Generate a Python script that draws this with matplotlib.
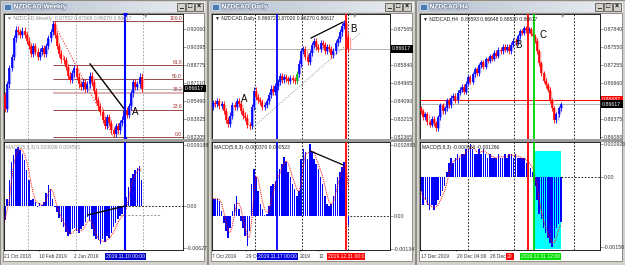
import numpy as np
import pandas as pd
import matplotlib.pyplot as plt
from matplotlib.patches import Rectangle
from matplotlib.colors import LinearSegmentedColormap
from matplotlib.transforms import blended_transform_factory as blend
import matplotlib.patheffects as pe

plt.rcParams['font.family'] = ['Liberation Sans', 'DejaVu Sans']

# ---------------- NZDCAD,Weekly ----------------
wk_close = [0.848, 0.870, 0.885, 0.895, 0.912, 0.920, 0.918, 0.915,
            0.919, 0.915, 0.910, 0.905, 0.898, 0.905, 0.900, 0.895,
            0.900, 0.903, 0.898, 0.905, 0.912, 0.918, 0.925, 0.915,
            0.905, 0.898, 0.893, 0.892, 0.886, 0.878, 0.874, 0.880,
            0.885, 0.877, 0.870, 0.868, 0.872, 0.866, 0.870, 0.878,
            0.872, 0.864, 0.856, 0.850, 0.845, 0.838, 0.832, 0.840,
            0.835, 0.828, 0.825, 0.832, 0.828, 0.835, 0.838, 0.846,
            0.842, 0.850, 0.862, 0.872, 0.868, 0.870, 0.877, 0.86617]
wk_open0 = 0.860
wk_macd = [-0.0021, 0.0010, 0.0040, 0.0066, 0.0077, 0.0086, 0.0089, 0.0085,
           0.0078, 0.0070, 0.0054, 0.0040, 0.0009, 0.0010, 0.0006, -0.0002,
           0.0005, 0.0002, 0.0006, 0.0020, 0.0032, 0.0025, 0.0010, -0.0002,
           -0.0009, -0.0018, -0.0024, -0.0031, -0.0039, -0.0046, -0.0042, -0.0035,
           -0.0033, -0.0038, -0.0040, -0.0035, -0.0030, -0.0024, -0.0016, -0.0022,
           -0.0035, -0.0045, -0.0050, -0.0052, -0.0057, -0.0050, -0.0055, -0.0046,
           -0.0048, -0.0040, -0.0032, -0.0025, -0.0020, -0.0015, -0.0012, -0.0010,
           0.0014, 0.0029, 0.0042, 0.0048, 0.0054, 0.0057, 0.0060, 0.0039]
wk_pticks = [0.92060, 0.90395, 0.88775, 0.87110, 0.85490, 0.83825, 0.82205]
wk_mticks = [0.009198, 0.0, -0.00627]
wk_mlabels = ['0.009198', '0.00', '-0.00627']
wk_fib_lo, wk_fib_hi = 0.8221, 0.9279
wk_fib_levels = [0.0, 23.6, 38.2, 50.0, 61.8, 100.0]
wk_times = ['21 Oct 2018', '10 Feb 2019', '2 Jun 2019']
wk_time_idx = [-0.3, 15.8, 32]

# ---------------- NZDCAD,Daily ----------------
dl_close = [0.8400, 0.8395, 0.8410, 0.8385, 0.8395, 0.8360, 0.8320, 0.8300,
            0.8340, 0.8390, 0.8380, 0.8410, 0.8395, 0.8360, 0.8340, 0.8330,
            0.8295, 0.8290, 0.8380, 0.8460, 0.8430, 0.8415, 0.8405, 0.8380,
            0.8390, 0.8410, 0.8440, 0.8470, 0.8455, 0.8480, 0.8500, 0.8530,
            0.8510, 0.8525, 0.8515, 0.8505, 0.8520, 0.8510, 0.8505, 0.8540,
            0.8590, 0.8650, 0.8660, 0.8620, 0.8600, 0.8640, 0.8680, 0.8700,
            0.8670, 0.8660, 0.8690, 0.8680, 0.8650, 0.8670, 0.8660, 0.8630,
            0.8650, 0.8690, 0.8710, 0.8740, 0.8770, 0.8785, 0.8720, 0.86617]
dl_open0 = 0.8380
dl_macd = [0.0007, 0.0007, 0.0007, 0.0006, 0.0002, -0.0003, -0.0006, -0.0009,
           -0.0005, 0.0002, 0.0005, 0.0008, 0.0003, -0.0002, -0.0005, -0.0008,
           -0.0012, -0.0006, 0.0013, 0.0019, 0.0016, 0.0010, 0.0005, 0.0003,
           0.00005, 0.0001, 0.0004, 0.0012, 0.0013, 0.0014, 0.0018, 0.0019,
           0.0021, 0.0024, 0.0022, 0.0018, 0.0016, 0.0013, 0.0011, 0.0008,
           0.0010, 0.0023, 0.0027, 0.0026, 0.0023, 0.0029, 0.0026, 0.0023,
           0.0021, 0.0019, 0.0016, 0.0013, 0.0008, 0.0005, 0.0004, 0.0005,
           0.0008, 0.0013, 0.0016, 0.0018, 0.0020, 0.0022, 0.0016, -0.00037]
dl_pticks = [0.87565, 0.85840, 0.84965, 0.84090, 0.83215, 0.82365]
dl_mticks = [0.002885, 0.0, -0.00134]
dl_mlabels = ['0.002885', '0.00', '-0.00134']
dl_green_bar = 39
# only the parts of the time scale that the marker boxes leave visible
dl_times = ['7 Oct 2019', '29 O', '2019', '12']
dl_time_idx = [-0.3, 15.5, 40.6, 49.2]

# ---------------- NZDCAD,H4 ----------------
h4_close = [0.8650, 0.8640, 0.8645, 0.8632, 0.8628, 0.8638, 0.8630, 0.8622,
            0.8640, 0.8660, 0.8650, 0.8655, 0.8668, 0.8660, 0.8672, 0.8675,
            0.8668, 0.8680, 0.8685, 0.8690, 0.8682, 0.8695, 0.8705, 0.8698,
            0.8710, 0.8718, 0.8712, 0.8725, 0.8730, 0.8722, 0.8735, 0.8732,
            0.8740, 0.8735, 0.8745, 0.8740, 0.8750, 0.8748, 0.8755, 0.8750,
            0.8755, 0.8748, 0.8758, 0.8765, 0.8762, 0.8772, 0.8780, 0.8778,
            0.8785, 0.8782, 0.8784, 0.8776, 0.8772, 0.8765, 0.8748, 0.8728,
            0.8712, 0.8700, 0.8692, 0.8685, 0.8668, 0.8655, 0.8635, 0.8645,
            0.8655, 0.86617]
h4_open0 = 0.8655
h4_macd = [-0.0003, -0.0006, -0.0005, -0.0006, -0.0007, -0.0006, -0.0007, -0.0006,
           -0.0005, -0.0004, -0.0003, -0.0002, 0.0001, 0.0003, 0.0004, 0.0003,
           0.0004, 0.0005, 0.0004, 0.0005, 0.0005, 0.0006, 0.0006, 0.0007,
           0.0006, 0.0005, 0.0005, 0.0006, 0.0005, 0.0006, 0.0005, 0.0004,
           0.0005, 0.0004, 0.0004, 0.0004, 0.0005, 0.0004, 0.0004, 0.0005,
           0.0004, 0.0005, 0.0005, 0.0004, 0.0005, 0.0004, 0.0004, 0.0004,
           0.0004, 0.0003, 0.0003, 0.0002, 0.0001, -0.0002, -0.0005, -0.0008,
           -0.0009, -0.0011, -0.0012, -0.0013, -0.0014, -0.0015, -0.0013, -0.0011,
           -0.0010, -0.00097]
h4_pticks = [0.87840, 0.87550, 0.87255, 0.86960, 0.86375, 0.86080]
h4_mticks = [0.00071, 0.0, -0.00150]
h4_mlabels = ['0.000920', '0.00', '-0.00150']
h4_times = ['17 Dec 2019', '20 Dec 04:00', '28 Dec']
h4_time_idx = [0.2, 16.7, 32.2]

W, H = 625, 265
fig = plt.figure(figsize=(6.25, 2.65), dpi=100)
fig.patch.set_facecolor('#d4d0c8')


def frac(x0, y0, x1, y1):
    return [x0 / W, 1 - y1 / H, (x1 - x0) / W, (y1 - y0) / H]


def frect(x0, y0, x1, y1, **kw):
    fig.add_artist(Rectangle((x0 / W, 1 - y1 / H), (x1 - x0) / W, (y1 - y0) / H,
                             transform=fig.transFigure, **kw))


def ftext(x, y, s, **kw):
    fig.text(x / W, 1 - y / H, s, **kw)


title_cmap = LinearSegmentedColormap.from_list('tb', ['#b4c0d0', '#eceff3'])


def window(x0, x1, title):
    frect(x0, 0, x1, H, fc='#d4d0c8', ec='#808080', lw=0.6, zorder=-10)
    tb = fig.add_axes(frac(x0 + 2, 1.5, x1 - 2, 12))
    tb.imshow(np.linspace(0, 1, 64)[None, :], aspect='auto', cmap=title_cmap)
    tb.axis('off')
    frect(x0 + 4, 3.5, x0 + 11, 10, fc='#4a7ab5', ec='white', lw=0.4)
    ftext(x0 + 13.5, 7, title, fontsize=4.8, color='white', va='center', fontweight='bold',
          path_effects=[pe.withStroke(linewidth=1.1, foreground='#7d8ea3')])
    for k, g in enumerate(['_', '□', '×']):
        bx = x1 - 30 + 9 * k
        frect(bx, 3, bx + 8, 10.5, fc='#d4d0c8', ec='#404040', lw=0.5)
        ftext(bx + 4, 6.6, g, fontsize=5, ha='center', va='center', fontweight='bold')
    frect(x0 + 3, 13, x1 - 3, 261, fc='white', ec='#808080', lw=0.6, zorder=-5)
    frect(x0 + 3, 139.2, x1 - 3, 142, fc='#9c9c9c', ec='none', zorder=2)


def style(ax, xl, yl, ticks, labels):
    ax.set_xlim(*xl)
    ax.set_ylim(*yl)
    ax.set_xticks([])
    ax.yaxis.tick_right()
    ax.set_yticks(ticks, labels)
    ax.tick_params(axis='y', length=2, width=0.4, labelsize=3.8, pad=1,
                   color='#555555', labelcolor='#333333')
    for sp in ax.spines.values():
        sp.set_linewidth(0.6)


def chart(L, R, p0, s, close, open0, wick, macd, pyl, pticks, myl, mticks, mlabels,
          green=None):
    xl = ((L - p0) / s, (R - p0) / s)
    axp = fig.add_axes(frac(L, 14, R, 139))
    axm = fig.add_axes(frac(L, 142, R, 250))
    style(axp, xl, pyl, pticks, [f'{t:.5f}' for t in pticks])
    style(axm, xl, myl, mticks, mlabels)

    c = np.asarray(close)
    o = np.r_[open0, c[:-1]]
    x = np.arange(len(c))
    up = c >= o
    lo, hi = np.minimum(o, c), np.maximum(o, c)
    col = np.where(up, '#0000ff', '#ff0000').astype(object)
    pale = np.where(up, '#a0a0ff', '#ffa0a0')
    if green is not None:
        col[green] = '#00c000'
    axp.vlines(x + 0.5, lo, hi, colors=pale, lw=1.0, zorder=3)
    axp.vlines(x, lo - wick, hi + wick, colors=col, lw=0.6, zorder=4)
    axp.vlines(x, lo, hi, colors=col, lw=1.25, zorder=4)

    m = np.asarray(macd)
    sig = pd.Series(m).rolling(3, min_periods=1).mean().to_numpy()
    axm.bar(np.arange(len(m)), m, width=0.7, color='#0000ff', lw=0, zorder=2)
    axm.plot(np.arange(len(m)), sig, color='#ff0000', ls=(0, (1, 1)), lw=0.7, zorder=3)
    return axp, axm


def vline(axes, x, **kw):
    for a in axes:
        a.axvline(x, **kw)


def price_box(ax, y, s, fc):
    ax.text(1.012, y, s, transform=blend(ax.transAxes, ax.transData), fontsize=3.8,
            color='white', va='center', ha='left',
            bbox=dict(boxstyle='square,pad=0.25', fc=fc, ec='none'), zorder=6)


def time_labels(ax, idx, labels):
    tr = blend(ax.transData, ax.transAxes)
    for i, t in zip(idx, labels):
        ax.text(i, -0.056, t, transform=tr, fontsize=3.5, color='#333333',
                ha='left', va='center', zorder=5)
        ax.plot([i - 0.3, i - 0.3], [-0.01, 0.0], transform=tr, color='#555555',
                lw=0.4, clip_on=False)


def time_box(ax, i, s, fc):
    ax.text(i, -0.056, s, transform=blend(ax.transData, ax.transAxes), fontsize=3.6,
            color='white', ha='center', va='center', zorder=7,
            bbox=dict(boxstyle='square,pad=0.2', fc=fc, ec='none'))


dots = (0, (2, 2))

# ----- window 1: weekly -----
window(0, 207, 'NZDCAD,Weekly')
ap, am = chart(4, 183, 5, 2.17, wk_close, wk_open0, 0.003, wk_macd,
               (0.82023, 0.93429), wk_pticks, (-0.00664, 0.00966), wk_mticks, wk_mlabels)
xr = ap.get_xlim()[1]
for xv in [10.6, 32.7, 63.6]:
    vline([ap, am], xv, color='#9a9a9a', ls=dots, lw=0.6, zorder=1)
ap.axhline(0.86617, color='#a8a8a8', lw=0.6, zorder=2)
for lv in wk_fib_levels:
    p = wk_fib_lo + (wk_fib_hi - wk_fib_lo) * lv / 100
    ap.hlines(p, 22, xr, colors='#d8a8a8' if lv == 38.2 else '#a04848',
              lw=1.2 if lv == 38.2 else 0.7, zorder=2)
    ap.text(xr - 0.4, p + 0.0004, f'{lv:.1f}', fontsize=3.6, color='#a03030',
            ha='right', va='bottom', zorder=5)
ap.plot([22, 50], [wk_fib_hi, wk_fib_lo], color='#ff3030', ls=(0, (1, 1.5)), lw=0.8, zorder=2)
ap.plot([39.2, 55.3], [0.8887, 0.8467], color='black', lw=1.0, zorder=5)
vline([ap, am], 55.3, color='#0000ff', lw=1.5, zorder=5)
ap.plot([55.3], [0.9330], marker='v', ms=2.5, color='#0000ff', zorder=6, clip_on=False)
ap.plot([55.3], [0.8212], marker='^', ms=2.5, color='#0000ff', zorder=6, clip_on=False)
ap.text(60.2, 0.8448, 'A', fontsize=7, ha='center', va='center', zorder=6)
price_box(ap, 0.86617, '0.86617', 'black')
ap.text(0.015, 0.985, '▼ NZDCAD,Weekly  0.87552 0.87969 0.86270 0.86617', transform=ap.transAxes,
        fontsize=3.6, color='#909090', va='top', zorder=6)
am.text(0.012, 0.975, 'MACD(5,8,3) 0.003939 0.004591', transform=am.transAxes,
        fontsize=3.6, color='#909090', va='top', zorder=6)
am.plot([38.2, 55.3], [-0.00136, 0.0], color='black', lw=1.0, zorder=5)
am.hlines(0, 55.3, xr, colors='black', linestyles=dots, lw=0.6, zorder=4)
am.hlines(-0.00136, 53, 71.4, colors='#8a8a8a', linestyles=(0, (2.5, 2)), lw=0.6, zorder=4)
time_labels(am, wk_time_idx, wk_times)
time_box(am, 55.3, '2019.11.10 00:00', '#0000c8')
ftext(146, 16, '▼', fontsize=4, color='#909090', ha='center', va='center')

# ----- window 2: daily -----
window(208, 415, 'NZDCAD,Daily')
ap, am = chart(212, 390, 213, 2.15, dl_close, dl_open0, 0.0015, dl_macd,
               (0.82269, 0.88287), dl_pticks, (-0.00138, 0.0030), dl_mticks, dl_mlabels,
               green=dl_green_bar)
xr = ap.get_xlim()[1]
for xv in [19.5, 41.4, 62.8]:
    vline([ap, am], xv, color='black', ls=dots, lw=0.6, zorder=1)
ap.axhline(0.86617, color='#a8a8a8', lw=0.6, zorder=2)
ap.plot([17.2, 68.4], [0.8270, 0.8737], color='#909090', ls=(0, (1, 1.5)), lw=0.7, zorder=2)
ap.plot([45.6, 60.5], [0.8713, 0.8790], color='black', lw=0.9, zorder=5)
vline([ap, am], 29.8, color='#0000ff', lw=1.3, zorder=5)
vline([ap, am], 61.9, color='#ff0000', lw=1.3, zorder=5)
ap.text(14.4, 0.8420, 'A', fontsize=7, ha='center', va='center', zorder=6)
ap.text(65.2, 0.8757, 'B', fontsize=7, ha='center', va='center', zorder=6)
price_box(ap, 0.86617, '0.86617', 'black')
ap.text(0.015, 0.985, '▼ NZDCAD,Daily  0.86972 0.87020 0.86270 0.86617', transform=ap.transAxes,
        fontsize=3.6, color='#202020', va='top', zorder=6)
am.text(0.012, 0.975, 'MACD(5,8,3) -0.000370 0.000523', transform=am.transAxes,
        fontsize=3.6, color='#202020', va='top', zorder=6)
am.plot([45.1, 60.5], [0.00264, 0.00207], color='black', lw=0.9, zorder=5)
am.hlines(0, 63.7, xr, colors='black', linestyles=dots, lw=0.6, zorder=4)
time_labels(am, dl_time_idx, dl_times)
time_box(am, 30.2, '2019.11.17 00:00', '#0000e0')
time_box(am, 61.9, '2019.12.31 00:0', '#ff0000')
ftext(355, 16, '▼', fontsize=4, color='#909090', ha='center', va='center')

# ----- window 3: H4 -----
window(416, 625, 'NZDCAD,H4')
ap, am = chart(420, 600, 421, 2.15, h4_close, h4_open0, 0.0004, h4_macd,
               (0.86047, 0.88084), h4_pticks, (-0.00156, 0.00075), h4_mticks, h4_mlabels)
xr = ap.get_xlim()[1]
for xv in [21.9, 43.3, 71.2]:
    vline([ap, am], xv, color='black', ls=dots, lw=0.6, zorder=1)
ap.axhline(0.86687, color='#ff0000', lw=0.7, zorder=2)
ap.axhline(0.86617, color='#a8a8a8', lw=0.6, zorder=2)
am.add_patch(Rectangle((52.6, -0.00154), 12.5, 0.0021, fc='#00ffff', ec='none', zorder=1))
vline([ap, am], 49.8, color='#ff0000', lw=1.3, zorder=5)
vline([ap, am], 52.6, color='#00d000', lw=1.3, zorder=5)
ap.text(45.3, 0.8758, 'B', fontsize=7, ha='center', va='center', zorder=6)
ap.text(56.9, 0.8774, 'C', fontsize=7, ha='center', va='center', zorder=6)
price_box(ap, 0.86687, '0.86687', '#ff0000')
price_box(ap, 0.86617, '0.86617', 'black')
ap.text(0.015, 0.985, '▼ NZDCAD,H4  0.86593 0.86648 0.86520 0.86617', transform=ap.transAxes,
        fontsize=3.6, color='#202020', va='top', zorder=6)
am.text(0.012, 0.975, 'MACD(5,8,3) -0.000966 -0.001266', transform=am.transAxes,
        fontsize=3.6, color='#202020', va='top', zorder=6)
am.hlines(0, 65.1, xr, colors='black', linestyles=dots, lw=0.6, zorder=4)
time_labels(am, h4_time_idx, h4_times)
time_box(am, 41.3, '20', '#ff0000')
time_box(am, 55.4, '2019.12.31 12:00', '#00e000')
ftext(563, 16, '▼', fontsize=4, color='#909090', ha='center', va='center')

fig.savefig('out.png', dpi=100, facecolor=fig.get_facecolor())
